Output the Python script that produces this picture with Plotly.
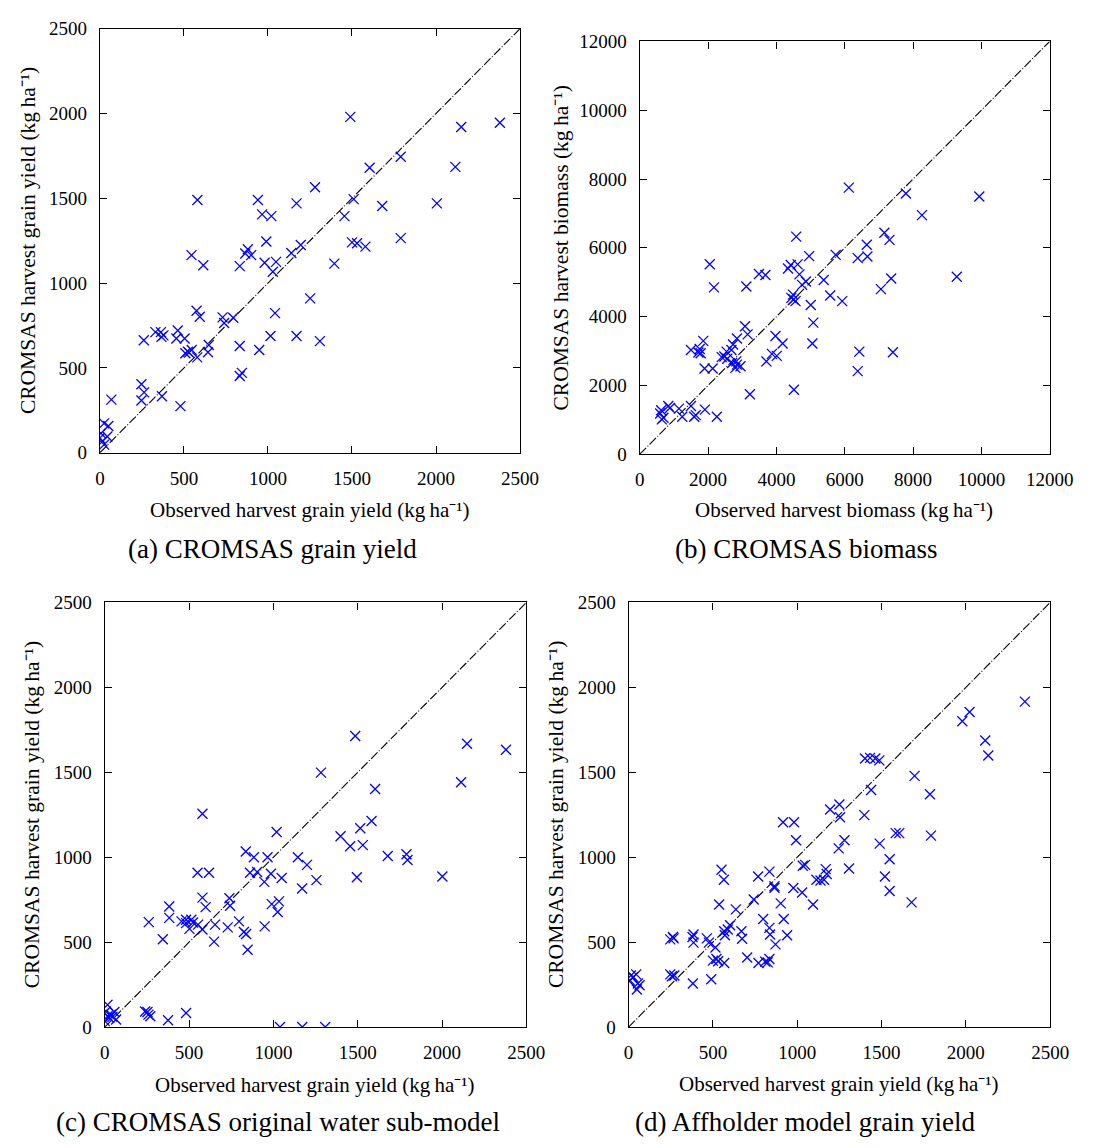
import plotly.graph_objects as go

W, H = 1099, 1148

# ---------------- data ----------------
grain_ticks = [0, 500, 1000, 1500, 2000, 2500]
biomass_ticks = [0, 2000, 4000, 6000, 8000, 10000, 12000]
grain_range = [0, 2500]
biomass_range = [0, 12000]

# (a) CROMSAS grain yield
a_obs = [1490, 2150, 2380, 1790, 2115, 1605, 1280, 580, 940, 1510, 1170, 2005, 1680, 965, 1020,
         1455, 1790, 990, 1500, 1530, 1580, 1195, 545, 615, 832, 880, 865, 900, 980, 1048,
         1029, 1139, 1395, 1251, 1042, 1015, 1170, 1309, 948, 832, 832, 845, 575, 594, 730,
         739, 793, 648, 643, 261, 330, 363, 378, 366, 463, 455, 504, 508, 523, 546,
         530, 579, 247, 263, 247, 369, 479, 68, 25, 50, 6, 44, 0, 15, 25]
a_sim = [1980, 1920, 1945, 1745, 1685, 1680, 1565, 1490, 1490, 1495, 1470, 1470, 1455, 1405, 1395,
         1395, 1265, 1245, 1240, 1235, 1215, 1225, 1165, 1105, 1100, 1200, 1175, 1165, 1120, 1125,
         1067, 1177, 1115, 910, 823, 688, 688, 658, 606, 629, 452, 471, 837, 802, 798,
         765, 796, 635, 592, 663, 711, 711, 692, 683, 721, 673, 673, 587, 596, 606,
         590, 562, 404, 356, 308, 333, 275, 313, 173, 158, 115, 96, 87, 67, 48]

# (b) CROMSAS biomass
b_obs = [2048, 2171, 3119, 3489, 3678, 4340, 4420, 4620, 4579, 4958, 4674, 4750, 4863, 5384, 5574,
         5925, 5735, 6380, 6645, 6664, 4437, 4484, 4560, 4503, 5005, 5081, 5053, 6427, 6380, 4512,
         3223, 3081, 3157, 3972, 4181, 3868, 4010, 3707, 2844, 2730, 2683, 2541, 2474, 2398, 2560,
         2702, 2825, 2797, 2948, 2844, 1858, 1754, 1716, 1498, 1782, 1896, 2133, 2256, 1905, 1498,
         1640, 1593, 1147, 1242, 834, 882, 626, 597, 692, 645,
         9940, 8260, 7790, 6120, 7160, 7310, 9280, 7360, 7060, 7410]
b_sim = [5521, 4849, 4877, 5237, 5208, 5400, 5500, 5520, 6326, 5758, 5227, 4924, 5019, 5066, 4612,
         4451, 5796, 5701, 6089, 5748, 4546, 4640, 4451, 4498, 4337, 3826, 3220, 2983, 2415, 1875,
         1742, 3722, 3485, 3438, 3220, 2917, 2860, 2699, 3362, 3191, 3031, 2983, 2841, 2822, 2775,
         2652, 2699, 2510, 2557, 2604, 3295, 3059, 2955, 3031, 2936, 2491, 2491, 1089, 1297, 1402,
         1136, 1089, 1326, 1089, 1402, 1345, 1279, 1184, 1061, 1013,
         7490, 6950, 7580, 7750, 6440, 6230, 5160, 5110, 4800, 2965]

# (c) CROMSAS original water sub-model
c_obs = [1485, 2148, 2379, 1282, 2113, 1603, 579, 1582, 1019, 1515, 1398, 1455, 1530, 1678, 1789,
         1795, 836, 884, 965, 1145, 1199, 1495, 2002, 1255, 1049, 1170, 550, 618, 861, 903,
         985, 946, 579, 598, 739, 743, 990, 1033, 1025, 382, 382, 261, 344, 455, 482,
         513, 523, 502, 553, 482, 579, 654, 648, 729, 796, 825, 838, 948, 847,
         239, 259, 253, 270, 375, 482, 1039, 1171, 1307, 16, 6, 36, 57, 16, 26, 67, 0, 45]
c_sim = [1714, 1668, 1633, 1498, 1441, 1402, 1256, 1213, 1148, 1171, 1123, 1065, 1071, 1007, 1017,
         984, 1034, 1000, 1000, 1000, 955, 882, 886, 865, 878, 816, 909, 909, 909, 913,
         903, 855, 762, 706, 758, 714, 724, 740, 677, 710, 643, 618, 517, 622, 632,
         632, 616, 578, 603, 612, 574, 603, 503, 587, 622, 560, 548, 593, 455,
         92, 73, 89, 64, 40, 83, 0, 0, 0, 131, 92, 73, 89, 64, 54, 44, 35, 60]

# (d) Affholder model grain yield
d_obs = [2350, 2022, 1979, 2115, 2133, 1402, 1432, 1463, 1487, 1696, 1438, 1787, 1250, 1195, 1254,
         1398, 916, 981, 993, 1280, 1246, 1584, 1605, 1793, 1489, 1548, 1033, 1047, 1307, 1169,
         1175, 1159, 1138, 1114, 1520, 1548, 1678, 551, 565, 768, 835, 865, 865, 977, 1029,
         1094, 537, 636, 742, 902, 798, 920, 835, 839, 940, 871, 703, 770, 810, 835,
         825, 669, 673, 602, 588, 571, 567, 515, 521, 531, 500, 567, 464, 476, 385,
         385, 379, 263, 267, 247, 247, 257, 271, 381, 490, 4, 14, 28, 45, 8, 55, 49, 65]
d_sim = [1916, 1855, 1801, 1687, 1599, 1581, 1585, 1581, 1570, 1479, 1396, 1371, 1310, 1281, 1235,
         1248, 1206, 1206, 1100, 1100, 1052, 1142, 1142, 1127, 1080, 988, 950, 955, 934, 930,
         901, 867, 863, 867, 886, 801, 734, 926, 867, 886, 915, 830, 820, 819, 792,
         722, 722, 693, 751, 728, 636, 636, 584, 545, 541, 487, 410, 377, 385, 401,
         381, 564, 520, 599, 574, 541, 564, 468, 401, 387, 391, 377, 522, 497, 545,
         497, 530, 530, 522, 516, 310, 299, 304, 256, 281, 270, 304, 295, 310, 275, 256, 221, 246]

x_title_grain = "Observed harvest grain yield (kg\u2009ha\u207b\u00b9)"
x_title_biomass = "Observed harvest biomass (kg\u2009ha\u207b\u00b9)"
y_title_grain = "CROMSAS harvest grain yield (kg\u2009ha\u207b\u00b9)"
y_title_biomass = "CROMSAS harvest biomass (kg\u2009ha\u207b\u00b9)"
captions = ["(a) CROMSAS grain yield", "(b) CROMSAS biomass",
            "(c) CROMSAS original water sub-model", "(d) Affholder model grain yield"]

# ---------------- layout helpers ----------------
FONT = "Liberation Serif"


def px_x(p):
    return p / W


def px_y(p):
    return 1 - p / H


# plot-area boxes in pixels (left, right, top, bottom)
boxes = [
    (97.5, 529, 19, 451),
    (652, 1073, 32, 452.5),
    (102.5, 535.5, 603.5, 1036),
    (640.5, 1073.5, 603.5, 1036),
]

panels = [
    (a_obs, a_sim, grain_range, grain_ticks),
    (b_obs, b_sim, biomass_range, biomass_ticks),
    (c_obs, c_sim, grain_range, grain_ticks),
    (d_obs, d_sim, grain_range, grain_ticks),
]

fig = go.Figure()
layout_axes = {}
for i, ((obs, sim, rng, ticks), box) in enumerate(zip(panels, boxes)):
    n = "" if i == 0 else str(i + 1)
    xa, ya = "x" + n, "y" + n
    fig.add_trace(go.Scatter(
        x=rng, y=rng, mode="lines", xaxis=xa, yaxis=ya,
        line=dict(color="black", width=1.1, dash="9px,2px,1px,2px"),
        showlegend=False, hoverinfo="skip"))
    fig.add_trace(go.Scatter(
        x=obs, y=sim, mode="markers", xaxis=xa, yaxis=ya,
        marker=dict(symbol="x-thin", size=10, line=dict(color="#0000FF", width=1.3)),
        showlegend=False))
    l, r, t, b = box
    common = dict(range=rng, tickvals=ticks, ticktext=[str(v) for v in ticks],
                  showline=True, linecolor="black", linewidth=1.3,
                  mirror="allticks", ticks="inside", ticklen=7, tickwidth=1, tickcolor="black",
                  showgrid=False, zeroline=False, ticklabelstandoff=8,
                  tickfont=dict(family=FONT, size=19, color="black"))
    layout_axes["xaxis" + n] = dict(common, domain=[px_x(l), px_x(r)], anchor=ya)
    layout_axes["yaxis" + n] = dict(common, domain=[px_y(b), px_y(t)], anchor=xa)

fig.update_layout(**layout_axes)

ann = []
x_titles = [x_title_grain, x_title_biomass, x_title_grain, x_title_grain]
y_titles = [y_title_grain, y_title_biomass, y_title_grain, y_title_grain]
x_title_pos = [(313, 509), (862, 509), (318, 1095), (857, 1094)]
y_title_pos = [(23, 235), (571, 242), (28, 820), (566, 820)]
cap_pos = [(275, 549), (823, 549), (280, 1133), (822, 1133)]
for i in range(4):
    ann.append(dict(text=x_titles[i], x=px_x(x_title_pos[i][0]), y=px_y(x_title_pos[i][1]),
                    xref="paper", yref="paper", showarrow=False, xanchor="center", yanchor="middle",
                    font=dict(family=FONT, size=21, color="black")))
    ann.append(dict(text=y_titles[i], x=px_x(y_title_pos[i][0]), y=px_y(y_title_pos[i][1]),
                    xref="paper", yref="paper", showarrow=False, xanchor="center", yanchor="middle",
                    textangle=-90, font=dict(family=FONT, size=21.5, color="black")))
    ann.append(dict(text=captions[i], x=px_x(cap_pos[i][0]), y=px_y(cap_pos[i][1]),
                    xref="paper", yref="paper", showarrow=False, xanchor="center", yanchor="middle",
                    font=dict(family=FONT, size=27, color="black")))

fig.update_layout(
    width=W, height=H, margin=dict(l=0, r=0, t=0, b=0),
    paper_bgcolor="white", plot_bgcolor="white", annotations=ann,
)

fig.write_html("out.html")
